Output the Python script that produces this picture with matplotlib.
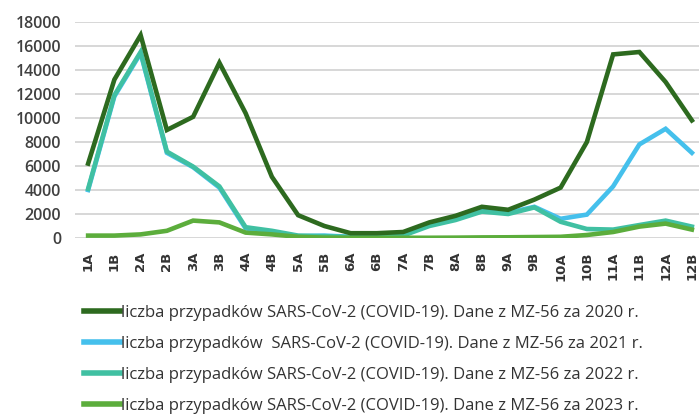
import matplotlib
matplotlib.use("Agg")
import matplotlib.pyplot as plt

categories = ["1A", "1B", "2A", "2B", "3A", "3B", "4A", "4B", "5A", "5B", "6A", "6B",
              "7A", "7B", "8A", "8B", "9A", "9B", "10A", "10B", "11A", "11B", "12A", "12B"]

cases_2020 = [6200, 13200, 16900, 9000, 10100, 14600, 10400, 5100, 1900, 1000, 400, 400,
              500, 1300, 1850, 2600, 2350, 3200, 4200, 8000, 15300, 15500, 13000, 9800]
cases_2021 = [4000, 11800, 15400, 7100, 5900, 4200, 800, 500, 150, 200, 100, 100,
              250, 1100, 1600, 2300, 2100, 2600, 1600, 1950, 4300, 7800, 9100, 7100]
cases_2022 = [4100, 11900, 15500, 7200, 5950, 4300, 900, 600, 200, 150, 80, 80,
              200, 1000, 1500, 2200, 2000, 2550, 1350, 750, 700, 1080, 1450, 950]
cases_2023 = [200, 200, 300, 600, 1450, 1300, 450, 300, 100, 30, 20, 20,
              20, 20, 30, 50, 60, 80, 100, 250, 500, 950, 1200, 700]

labels = [
    "liczba przypadków SARS-CoV-2 (COVID-19). Dane z MZ-56 za 2020 r.",
    "liczba przypadków  SARS-CoV-2 (COVID-19). Dane z MZ-56 za 2021 r.",
    "liczba przypadków SARS-CoV-2 (COVID-19). Dane z MZ-56 za 2022 r.",
    "liczba przypadków SARS-CoV-2 (COVID-19). Dane z MZ-56 za 2023 r.",
]
colors = ["#2d6a1f", "#45c0ec", "#40c0a2", "#5cad3c"]
series = [cases_2020, cases_2021, cases_2022, cases_2023]
zorders = [6, 3, 4, 5]

W, H = 699, 419
fig = plt.figure(figsize=(W / 100, H / 100), dpi=100)
ax = fig.add_axes([75 / W, (H - 238) / H, 630 / W, 216 / H])

x = list(range(len(categories)))
handles = []
for vals, c, lab, z in zip(series, colors, labels, zorders):
    h, = ax.plot(x, vals, color=c, lw=3.3, solid_joinstyle="miter", zorder=z, label=lab)
    handles.append(h)

ax.set_xlim(-0.5, len(categories) - 0.5)
ax.set_ylim(0, 18000)
ax.set_yticks(range(0, 18001, 2000))
ax.yaxis.grid(True, color="#d4d4d4", lw=1.3, zorder=0)
ax.set_axisbelow(True)
for s in ax.spines.values():
    s.set_visible(False)
ax.tick_params(axis="y", length=0, pad=10, labelsize=11.5, labelcolor="#404040")
for t in ax.get_yticklabels():
    t.set_fontfamily("Open Sans")
    t.set_fontweight("semibold")
ax.set_xticks(x)
ax.set_xticklabels(categories, rotation=90, fontsize=9.5, fontweight="bold",
                   fontfamily="DejaVu Sans", color="#333333")
ax.tick_params(axis="x", length=0, pad=10)

leg = fig.legend(handles=handles, labels=labels, loc="upper left",
                 bbox_to_anchor=(84 / W, (H - 305) / H), frameon=False,
                 handlelength=2.15, handletextpad=0.05, labelspacing=0.9,
                 prop={"family": "Open Sans", "size": 12}, borderaxespad=0,
                 borderpad=0)
for t in leg.get_texts():
    t.set_color("#333333")
for l in leg.get_lines():
    l.set_linewidth(4)

fig.savefig("out.png", dpi=100)
